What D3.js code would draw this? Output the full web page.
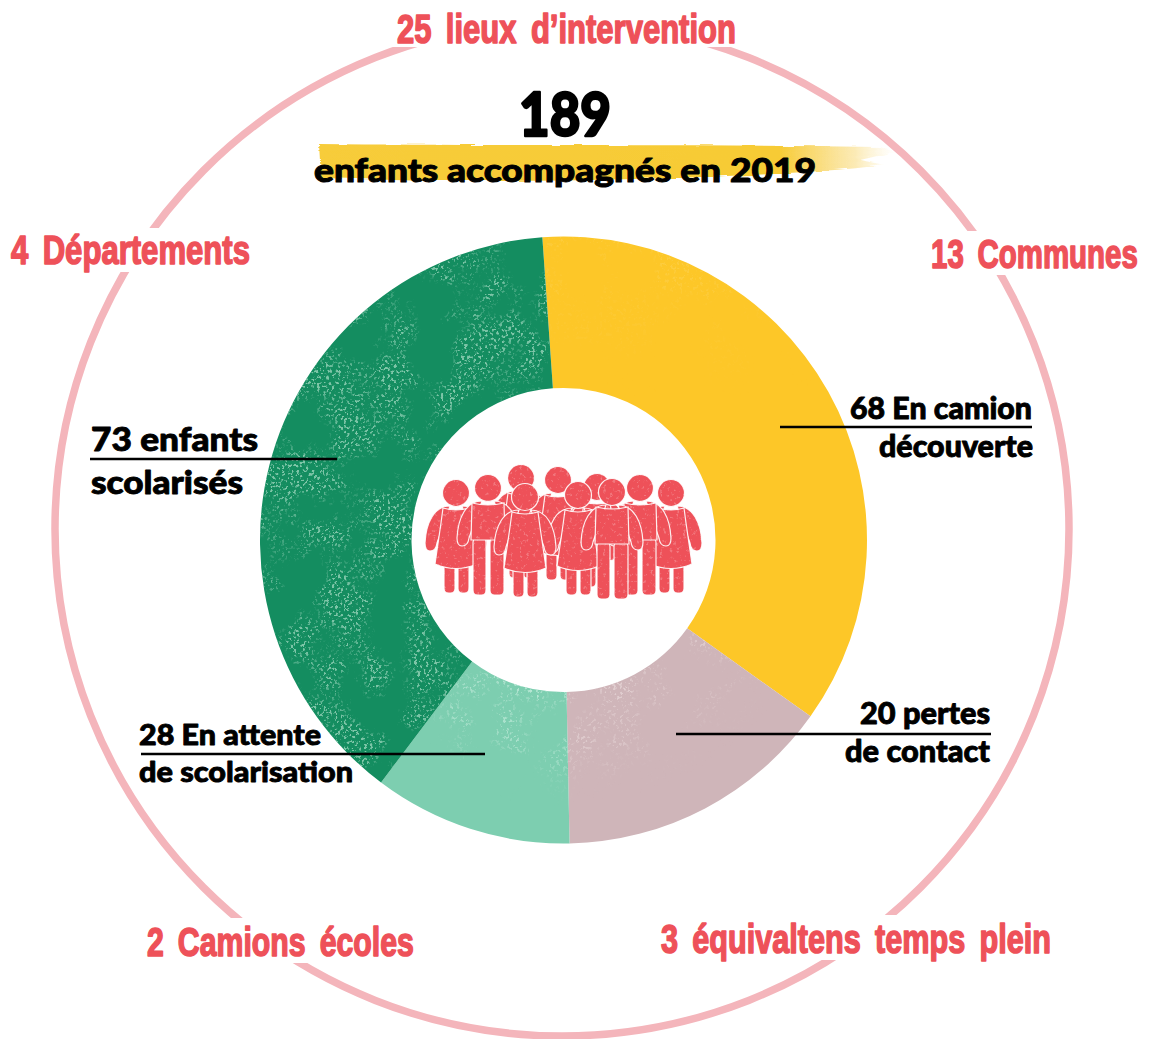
<!DOCTYPE html>
<html lang="fr">
<head>
<meta charset="utf-8">
<title>189 enfants accompagnés en 2019</title>
<script src="https://cdn.jsdelivr.net/npm/d3@7/dist/d3.min.js"></script>
<style>
html,body{margin:0;padding:0;background:#fff}
svg{display:block}
text{font-kerning:normal}
</style>
</head>
<body>
<div id="chart"></div>
<script>
// Slice shares as drawn, clockwise from the top
const sliceNames = ["camion", "contact", "attente", "scolarises"];
const sliceValues = [68, 28, 20, 73];
const sliceColors = ["#fdc728", "#cfb5b9", "#7dceb0", "#148d60"];
const speckColors = ["#fff3c4", "#f0e4e4", "#c4ecdc", "#8fcfb4"];
const speckOpacity = [0.22, 0.55, 0.8, 0.85];

// Text
const headline = "189";
const subline = "enfants accompagnés en 2019";
const redLabels = ["25 lieux d’intervention", "4 Départements", "13 Communes", "2 Camions écoles", "3 équivaltens temps plein"];
const blackLabels = [["73 enfants", "scolarisés"], ["68 En camion", "découverte"], ["20 pertes", "de contact"], ["28 En attente", "de scolarisation"]];

// Layout
const W = 1149, H = 1039;
const cx = 563.5, cy = 540, rOuter = 303.5, rInner = 152;
const ring = {x: 562, y: 529, r: 507};
const redBase = 27, redStretch = 41 / 27;
const redLayout = [
  {x: 397, w: 339, y: 43, box: [385, 0, 360, 47]},
  {x: 11, w: 239, y: 264, box: [5, 228, 250, 44]},
  {x: 931, w: 207, y: 268, box: [925, 231, 224, 44]},
  {x: 147, w: 267, y: 956, box: [140, 918, 280, 45]},
  {x: 661, w: 390, y: 953, box: [655, 915, 402, 45]}
];
const blackLayout = [
  {x: [91, 91], w: [167, 152], y: [451, 494], line: [90, 337, 459], size: 33},
  {x: [850, 879], w: [182, 154], y: [419, 457], line: [780, 1032, 427], size: 31},
  {x: [860, 845], w: [130, 145], y: [724, 762], line: [676, 991, 734], size: 31},
  {x: [139, 139], w: [182, 214], y: [745, 782], line: [141, 485, 754], size: 29}
];
const crowd = [
  {x: 521, y: 478, k: "d"}, {x: 558, y: 480, k: "d"}, {x: 597, y: 487, k: "d"},
  {x: 456, y: 493, k: "d"}, {x: 488, y: 488, k: "p"}, {x: 671, y: 493, k: "d"},
  {x: 640, y: 488, k: "p"}, {x: 578, y: 495, k: "d"}, {x: 525, y: 497, k: "d"},
  {x: 612, y: 492, k: "p"}
];
const RED = "#ee5159";

const svg = d3.select("#chart").append("svg").attr("width", W).attr("height", H).attr("viewBox", `0 0 ${W} ${H}`);
const defs = svg.append("defs");

// Grain texture, made only by SVG turbulence
function grain(id, fineF, seed, coarseF, fineCut, coarseCut) {
  const f = defs.append("filter").attr("id", id).attr("x", 0).attr("y", 0).attr("width", 1).attr("height", 1)
    .attr("color-interpolation-filters", "sRGB");
  f.append("feTurbulence").attr("type", "fractalNoise").attr("baseFrequency", fineF).attr("numOctaves", 3).attr("seed", seed).attr("result", "fineN");
  f.append("feColorMatrix").attr("in", "fineN").attr("type", "matrix")
    .attr("values", `0 0 0 0 0 0 0 0 0 0 0 0 0 0 0 ${fineCut[0]} 0 0 0 ${fineCut[1]}`).attr("result", "fine");
  f.append("feTurbulence").attr("type", "fractalNoise").attr("baseFrequency", coarseF).attr("numOctaves", 5).attr("seed", seed + 5).attr("result", "coarseN");
  f.append("feColorMatrix").attr("in", "coarseN").attr("type", "matrix")
    .attr("values", `0 0 0 0 0 0 0 0 0 0 0 0 0 0 0 ${coarseCut[0]} 0 0 0 ${coarseCut[1]}`).attr("result", "coarse");
  f.append("feComposite").attr("in", "fine").attr("in2", "coarse").attr("operator", "in").attr("result", "sp");
  f.append("feComposite").attr("in", "SourceGraphic").attr("in2", "sp").attr("operator", "in");
}
grain("speck", 0.3, 4, 0.02, [10, -5.7], [5, -2.2]);
grain("speckDense", 0.34, 9, 0.022, [10, -5.6], [5, -2.1]);

// People grain: paints pale flecks inside the group's own shape
const pf = defs.append("filter").attr("id", "peopleGrain").attr("x", 0).attr("y", 0).attr("width", 1).attr("height", 1)
  .attr("color-interpolation-filters", "sRGB");
pf.append("feTurbulence").attr("type", "fractalNoise").attr("baseFrequency", 0.3).attr("numOctaves", 3).attr("seed", 12).attr("result", "n");
pf.append("feColorMatrix").attr("in", "n").attr("type", "matrix").attr("values", "0 0 0 0 1 0 0 0 0 1 0 0 0 0 1 7 0 0 0 -4.3").attr("result", "w");
pf.append("feComposite").attr("in", "w").attr("in2", "SourceAlpha").attr("operator", "in").attr("result", "wi");
pf.append("feComponentTransfer").attr("in", "wi").attr("result", "wl").append("feFuncA").attr("type", "linear").attr("slope", 0.22);
const pm = pf.append("feMerge");
pm.append("feMergeNode").attr("in", "SourceGraphic");
pm.append("feMergeNode").attr("in", "wl");

// Rough edges for the brush stroke
const rough = defs.append("filter").attr("id", "rough").attr("x", -0.05).attr("y", -0.2).attr("width", 1.1).attr("height", 1.4);
rough.append("feTurbulence").attr("type", "fractalNoise").attr("baseFrequency", "0.03 0.5").attr("numOctaves", 2).attr("seed", 2).attr("result", "n");
rough.append("feDisplacementMap").attr("in", "SourceGraphic").attr("in2", "n").attr("scale", 4);

// Fading masks for the grain on the pale slices
const rg = defs.append("radialGradient").attr("id", "fadeOut").attr("gradientUnits", "userSpaceOnUse")
  .attr("cx", cx).attr("cy", cy).attr("r", rOuter);
[[0.5, 1], [0.68, 0.75], [0.8, 0.12], [0.88, 0]].forEach(s => rg.append("stop").attr("offset", s[0]).attr("stop-color", "#fff").attr("stop-opacity", s[1]));
defs.append("mask").attr("id", "fadeMask").attr("maskUnits", "userSpaceOnUse").attr("x", 0).attr("y", 0).attr("width", W).attr("height", H)
  .append("rect").attr("width", W).attr("height", H).attr("fill", "url(#fadeOut)");
const lg = defs.append("linearGradient").attr("id", "topFade").attr("gradientUnits", "userSpaceOnUse").attr("x1", 0).attr("y1", 237).attr("x2", 0).attr("y2", 400);
[[0, 0.9], [0.5, 0.25], [1, 0]].forEach(s => lg.append("stop").attr("offset", s[0]).attr("stop-color", "#fff").attr("stop-opacity", s[1]));
defs.append("mask").attr("id", "topMask").attr("maskUnits", "userSpaceOnUse").attr("x", 0).attr("y", 0).attr("width", W).attr("height", H)
  .append("rect").attr("width", W).attr("height", H).attr("fill", "url(#topFade)");

// Brush gradient
const bg = defs.append("linearGradient").attr("id", "brushFill").attr("gradientUnits", "userSpaceOnUse").attr("x1", 318).attr("y1", 0).attr("x2", 895).attr("y2", 0);
[[0, "#f7cc3a", 1], [0.8, "#f7cb35", 1], [0.93, "#f8d568", 0.5], [1, "#fbe6a5", 0]].forEach(s =>
  bg.append("stop").attr("offset", s[0]).attr("stop-color", s[1]).attr("stop-opacity", s[2]));

// Outer ring
svg.append("circle").attr("cx", ring.x).attr("cy", ring.y).attr("r", ring.r)
  .attr("fill", "none").attr("stroke", "#f4b5bb").attr("stroke-width", 7.5);

// Donut
const pie = d3.pie().sort(null).value(d => d).startAngle(-4 * Math.PI / 180).endAngle(356 * Math.PI / 180);
const arc = d3.arc().innerRadius(rInner).outerRadius(rOuter);
const arcs = pie(sliceValues);
const donut = svg.append("g").attr("transform", `translate(${cx},${cy})`);
donut.selectAll("path.slice").data(arcs).join("path").attr("class", "slice")
  .attr("d", arc).attr("fill", (d, i) => sliceColors[i]);

const overlay = svg.append("g");
arcs.forEach((d, i) => {
  const holder = overlay.append("g");
  if (i === 1 || i === 2) holder.attr("mask", "url(#fadeMask)");
  if (i === 0) holder.attr("mask", "url(#topMask)");
  holder.append("g").attr("filter", i === 3 ? "url(#speckDense)" : "url(#speck)")
    .append("path").attr("transform", `translate(${cx},${cy})`)
    .attr("d", arc(d)).attr("fill", speckColors[i]).attr("fill-opacity", speckOpacity[i]);
});

// Crowd pictogram
function person(sel, k) {
  const legs = k === "d"
    ? [[-12, 66, 11, 34], [2, 66, 11, 34]]
    : [[-15, 50, 13, 57], [2, 50, 14, 57]];
  const attrs = s => s.attr("fill", RED).attr("stroke", "#fff").attr("stroke-width", 1.2).attr("stroke-opacity", 0.9);
  legs.forEach(l => attrs(sel.append("rect")).attr("x", l[0]).attr("y", l[1]).attr("width", l[2]).attr("height", l[3]).attr("rx", 4.5));
  const armR = "M6,13 C22,13 30,30 31,50 Q31,58 26,58 Q20,58 19,50 L12,30 Z";
  const armL = "M-6,13 C-22,13 -30,30 -31,50 Q-31,58 -26,58 Q-20,58 -19,50 L-12,30 Z";
  attrs(sel.append("path")).attr("d", armR);
  attrs(sel.append("path")).attr("d", armL);
  const body = k === "d"
    ? "M-13,15 Q0,19 13,15 L15,30 L21,71 Q0,80 -21,71 L-15,30 Z"
    : "M-16,15 Q0,19 16,15 L17,52 L-17,52 Z";
  attrs(sel.append("path")).attr("d", body);
  attrs(sel.append("circle")).attr("r", 13.5);
}
const people = svg.append("g").attr("filter", "url(#peopleGrain)");
people.selectAll("g").data(crowd).join("g")
  .attr("transform", d => `translate(${d.x},${d.y})`)
  .each(function (d) { person(d3.select(this), d.k); });

// Brush stroke behind the subtitle
const brush = d3.path();
brush.moveTo(319, 144);
brush.bezierCurveTo(480, 146, 680, 144, 880, 147);
brush.lineTo(895, 152);
brush.lineTo(860, 160);
brush.lineTo(885, 165);
brush.bezierCurveTo(800, 176, 600, 182, 430, 181);
brush.lineTo(321, 178);
brush.closePath();
svg.append("path").attr("d", brush.toString()).attr("fill", "url(#brushFill)").attr("filter", "url(#rough)");

// Red labels over white knock-outs: a small face stretched up to the tall condensed look
const FONT_RED = "'Liberation Sans Narrow','Liberation Sans',sans-serif";
redLabels.forEach((t, i) => {
  const p = redLayout[i];
  svg.append("rect").attr("x", p.box[0]).attr("y", p.box[1]).attr("width", p.box[2]).attr("height", p.box[3]).attr("fill", "#fff");
  const node = svg.append("text").attr("font-family", FONT_RED).attr("font-weight", 700)
    .attr("font-size", redBase).attr("fill", RED).attr("stroke", RED).attr("stroke-width", 1.05).attr("stroke-linejoin", "round")
    .attr("word-spacing", 5).text(t);
  const sx = p.w / node.node().getComputedTextLength();
  node.attr("transform", `translate(${p.x},${p.y}) scale(${sx},${redStretch})`);
});

// Black labels and leader lines
const FONT_BLACK = "Lato,'Open Sans',sans-serif";
function blackText(t, x, y, w, size, thick) {
  svg.append("text").attr("x", x).attr("y", y).attr("font-family", FONT_BLACK).attr("font-weight", 900)
    .attr("font-size", size).attr("fill", "#000").attr("stroke", "#000").attr("stroke-width", thick).attr("stroke-linejoin", "round")
    .attr("textLength", w).attr("lengthAdjust", "spacingAndGlyphs").text(t);
}
blackLabels.forEach((lines, i) => {
  const p = blackLayout[i];
  lines.forEach((t, j) => blackText(t, p.x[j], p.y[j], p.w[j], p.size, 0.9));
  svg.append("line").attr("x1", p.line[0]).attr("x2", p.line[1]).attr("y1", p.line[2]).attr("y2", p.line[2])
    .attr("stroke", "#000").attr("stroke-width", 2.4);
});

blackText(headline, 519, 136, 92, 60, 2.4);
blackText(subline, 314, 182, 502, 33, 1);
</script>
</body>
</html>
